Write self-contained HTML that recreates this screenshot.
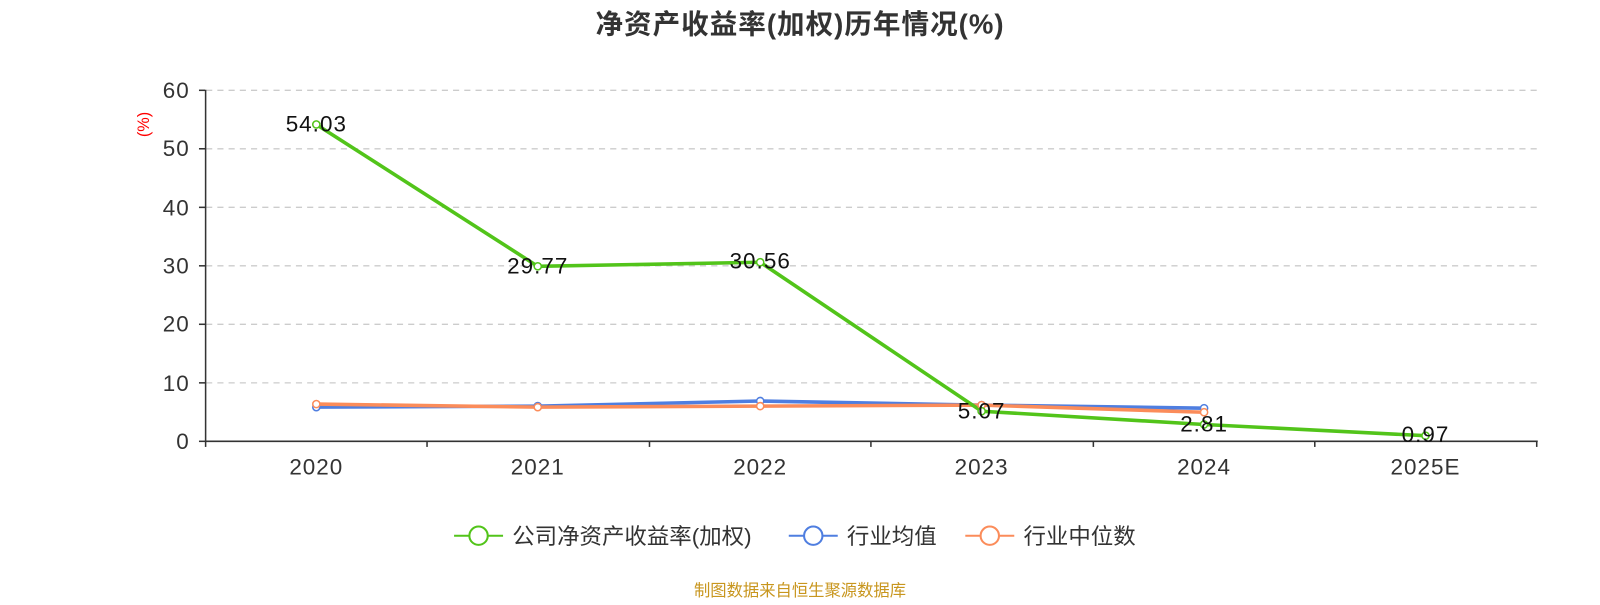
<!DOCTYPE html>
<html><head><meta charset="utf-8"><style>
body{margin:0;background:#fff;}
svg text{font-family:"Liberation Sans","Noto Sans CJK SC",sans-serif;}
</style></head><body>
<svg width="1600" height="600" xmlns="http://www.w3.org/2000/svg">
<g transform="scale(1.0204)">
<text x="784" y="33" text-anchor="middle" font-size="27" font-weight="bold" fill="#333" letter-spacing="1">净资产收益率(加权)历年情况(%)</text>
<g stroke="#ccc" stroke-dasharray="6,5" stroke-width="1.3">
<line x1="202" x2="1506" y1="88.5" y2="88.5"/><line x1="202" x2="1506" y1="145.8" y2="145.8"/>
<line x1="202" x2="1506" y1="203.2" y2="203.2"/><line x1="202" x2="1506" y1="260.5" y2="260.5"/>
<line x1="202" x2="1506" y1="317.8" y2="317.8"/><line x1="202" x2="1506" y1="375.2" y2="375.2"/>
</g>
<g stroke="#333" stroke-width="1.5">
<line x1="201.5" x2="201.5" y1="88" y2="432"/><line x1="201" x2="1507" y1="432.5" y2="432.5"/>
<line x1="195" x2="201" y1="88.5" y2="88.5"/><line x1="195" x2="201" y1="145.8" y2="145.8"/><line x1="195" x2="201" y1="203.2" y2="203.2"/><line x1="195" x2="201" y1="260.5" y2="260.5"/><line x1="195" x2="201" y1="317.8" y2="317.8"/><line x1="195" x2="201" y1="375.2" y2="375.2"/><line x1="195" x2="201" y1="432.5" y2="432.5"/>
<line x1="201.5" x2="201.5" y1="432" y2="438"/><line x1="418.5" x2="418.5" y1="432" y2="438"/><line x1="636.5" x2="636.5" y1="432" y2="438"/><line x1="853.5" x2="853.5" y1="432" y2="438"/><line x1="1071.5" x2="1071.5" y1="432" y2="438"/><line x1="1288.5" x2="1288.5" y1="432" y2="438"/><line x1="1506" x2="1506" y1="432" y2="438"/>
</g>
<g font-size="22" fill="#333" text-anchor="end" letter-spacing="1">
<text x="186" y="96">60</text><text x="186" y="153">50</text><text x="186" y="211">40</text><text x="186" y="268">30</text><text x="186" y="325">20</text><text x="186" y="383">10</text><text x="186" y="440">0</text>
</g>
<text x="146" y="122" font-size="16" fill="red" text-anchor="middle" transform="rotate(-90 146 122)">(%)</text>
<g font-size="22" fill="#333" text-anchor="middle" letter-spacing="1">
<text x="310" y="465">2020</text><text x="527" y="465">2021</text><text x="745" y="465">2022</text><text x="962" y="465">2023</text><text x="1180" y="465">2024</text><text x="1397" y="465">2025E</text>
</g>
<polyline fill="none" stroke="#4f7ee0" stroke-width="3.5" points="310,399 527,398 745,393 962,397 1180,400"/>
<polyline fill="none" stroke="#fb8c5a" stroke-width="3.5" points="310,396 527,399 745,398 962,397 1180,404"/>
<polyline fill="none" stroke="#52c41a" stroke-width="3.5" points="310,122 527,261 745,257 962,403 1180,416 1397,427"/>
<g fill="#fff" stroke-width="1.5">
<g stroke="#4f7ee0"><circle cx="310" cy="399" r="3.5"/><circle cx="527" cy="398" r="3.5"/><circle cx="745" cy="393" r="3.5"/><circle cx="962" cy="397" r="3.5"/><circle cx="1180" cy="400" r="3.5"/></g>
<g stroke="#fb8c5a"><circle cx="310" cy="396" r="3.5"/><circle cx="527" cy="399" r="3.5"/><circle cx="745" cy="398" r="3.5"/><circle cx="962" cy="397" r="3.5"/><circle cx="1180" cy="404" r="3.5"/></g>
<g stroke="#52c41a"><circle cx="310" cy="122" r="3.5"/><circle cx="527" cy="261" r="3.5"/><circle cx="745" cy="257" r="3.5"/><circle cx="962" cy="403" r="3.5"/><circle cx="1180" cy="416" r="3.5"/><circle cx="1397" cy="427" r="3.5"/></g>
</g>
<g font-size="22" fill="#111" text-anchor="middle" letter-spacing="1">
<text x="310" y="129">54.03</text><text x="527" y="268">29.77</text><text x="745" y="263">30.56</text><text x="962" y="410">5.07</text><text x="1180" y="423">2.81</text><text x="1397" y="433">0.97</text>
</g>
<g font-size="22" fill="#333">
<line x1="445" x2="493" y1="525" y2="525" stroke="#52c41a" stroke-width="2"/><circle cx="469" cy="525" r="9" fill="#fff" stroke="#52c41a" stroke-width="2"/>
<text x="502" y="533">公司净资产收益率(加权)</text>
<line x1="773" x2="821" y1="525" y2="525" stroke="#4f7ee0" stroke-width="2"/><circle cx="797" cy="525" r="9" fill="#fff" stroke="#4f7ee0" stroke-width="2"/>
<text x="830" y="533">行业均值</text>
<line x1="946" x2="994" y1="525" y2="525" stroke="#fb8c5a" stroke-width="2"/><circle cx="970" cy="525" r="9" fill="#fff" stroke="#fb8c5a" stroke-width="2"/>
<text x="1003" y="533">行业中位数</text>
</g>
<text x="784" y="584" font-size="16" fill="#c8961e" text-anchor="middle">制图数据来自恒生聚源数据库</text>
</g>
</svg>
</body></html>
